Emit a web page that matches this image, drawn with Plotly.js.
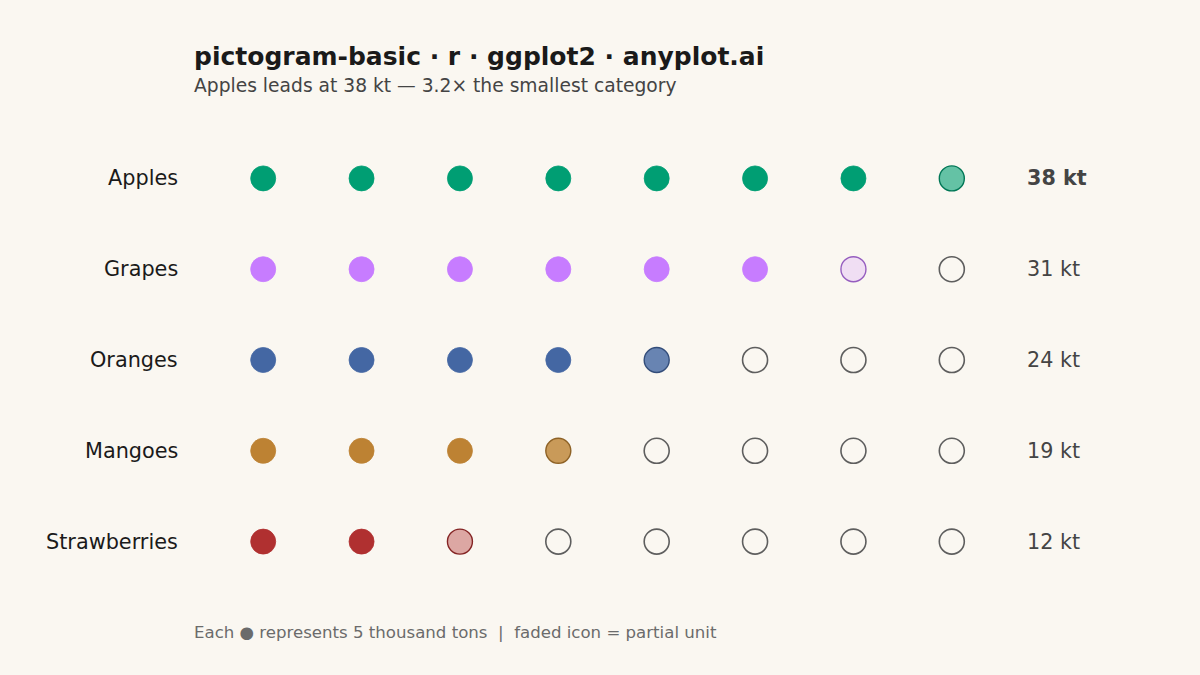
<!DOCTYPE html>
<html>
<head>
<meta charset="utf-8">
<script src="https://cdn.plot.ly/plotly-3.0.1.min.js"></script>
<style>html,body{margin:0;padding:0;background:#FAF7F1;}</style>
</head>
<body>
<div id="chart" style="width:1200px;height:675px;"></div>
<script>
const categories = ["Apples", "Grapes", "Oranges", "Mangoes", "Strawberries"];
const values = [38, 31, 24, 19, 12];
const colors = ["#009E73", "#C77CFF", "#4467A3", "#BD8233", "#B03030"];
const unitSize = 5;
const valueLabels = ["38 kt", "31 kt", "24 kt", "19 kt", "12 kt"];

const maxIcons = Math.ceil(Math.max(...values) / unitSize);
const slots = Array.from({length: maxIcons}, (_, i) => i + 1);

function hexToRgb(h) {
  const n = parseInt(h.slice(1), 16);
  return [(n >> 16) & 255, (n >> 8) & 255, n & 255];
}
function rgba(h, a) { const [r,g,b] = hexToRgb(h); return `rgba(${r},${g},${b},${a})`; }
function darker(h, f) { const [r,g,b] = hexToRgb(h); return `rgb(${Math.round(r*f)},${Math.round(g*f)},${Math.round(b*f)})`; }

const traces = categories.map((cat, ci) => {
  const units = values[ci] / unitSize;
  const full = Math.floor(units);
  const frac = +(units - full).toFixed(3);
  const fills = [], lines = [], widths = [];
  slots.forEach(s => {
    if (s <= full) { fills.push(colors[ci]); lines.push(colors[ci]); widths.push(0.8); }
    else if (s === full + 1 && frac > 0) { fills.push(rgba(colors[ci], frac)); lines.push(darker(colors[ci], 0.75)); widths.push(1.4); }
    else { fills.push("rgba(0,0,0,0)"); lines.push("#5E5E5E"); widths.push(1.6); }
  });
  return {
    type: "scatter", mode: "markers",
    x: slots, y: slots.map(() => cat),
    marker: {symbol: "circle", size: 25, color: fills, line: {color: lines, width: widths}},
    hoverinfo: "skip", showlegend: false, cliponaxis: false
  };
});

const mL = 214, mR = 199, mT = 132.5, mB = 87.5;
const plotH = 675 - mT - mB;
function paperY(px) { return (675 - mB - px) / plotH; }
function paperX(px) { return (px - mL) / (1200 - mL - mR); }

const annotations = [];
categories.forEach((cat, ci) => {
  annotations.push({x: 0, xref: "paper", xshift: -34, y: cat, yref: "y", text: cat,
    showarrow: false, xanchor: "right", yanchor: "middle",
    font: {family: "DejaVu Sans", size: 20.8, color: "#1A1A1A"}});
  annotations.push({x: 1, xref: "paper", xshift: 24, y: cat, yref: "y",
    text: ci === 0 ? "<b>" + valueLabels[ci] + "</b>" : valueLabels[ci],
    showarrow: false, xanchor: "left", yanchor: "middle",
    font: {family: "DejaVu Sans", size: 20.7, color: "#444444"}});
});
annotations.push({x: paperX(194), xshift: -2, xref: "paper", y: paperY(85), yref: "paper",
  text: "Apples leads at 38 kt — 3.2× the smallest category", showarrow: false,
  xanchor: "left", yanchor: "middle", font: {family: "DejaVu Sans", size: 18.7, color: "#444444"}});
annotations.push({x: paperX(194), xshift: -2, xref: "paper", y: paperY(633), yref: "paper",
  text: "Each ● represents 5 thousand tons  |  faded icon = partial unit", showarrow: false,
  xanchor: "left", yanchor: "middle", font: {family: "DejaVu Sans", size: 16.6, color: "#6B6B6B"}});

const layout = {
  width: 1200, height: 675,
  paper_bgcolor: "#FAF7F1", plot_bgcolor: "#FAF7F1",
  margin: {l: mL, r: mR, t: mT, b: mB},
  title: {text: "<b>pictogram-basic · r · ggplot2 · anyplot.ai</b>", x: 194/1200, xanchor: "left",
    y: 1 - 56/675, yanchor: "middle", yref: "container", xref: "container",
    font: {family: "DejaVu Sans", size: 25, color: "#1A1A1A"}},
  xaxis: {range: [0.5, maxIcons + 0.5], visible: false, fixedrange: true},
  yaxis: {type: "category", categoryorder: "array", categoryarray: categories,
    range: [categories.length - 0.5, -0.5], visible: false, fixedrange: true},
  annotations: annotations,
  showlegend: false
};

Plotly.newPlot("chart", traces, layout, {displayModeBar: false, staticPlot: true});
</script>
</body>
</html>
